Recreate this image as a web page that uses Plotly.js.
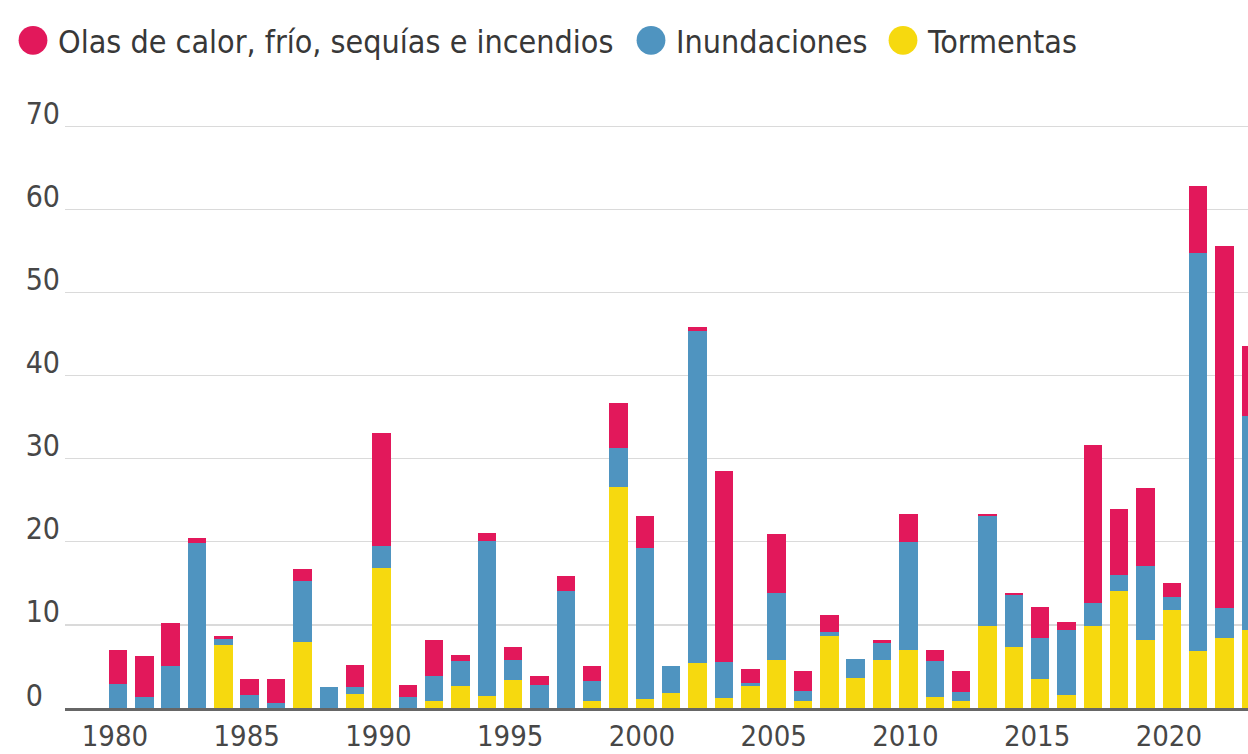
<!DOCTYPE html>
<html>
<head>
<meta charset="utf-8">
<script src="https://cdn.plot.ly/plotly-3.0.1.min.js"></script>
<style>
  html, body { margin: 0; padding: 0; background: #ffffff; }
  #chart { width: 1248px; height: 754px; }
</style>
</head>
<body>
<div id="chart"></div>
<script>
// ---- Data ----
const years = [1980,1981,1982,1983,1984,1985,1986,1987,1988,1989,
               1990,1991,1992,1993,1994,1995,1996,1997,1998,1999,
               2000,2001,2002,2003,2004,2005,2006,2007,2008,2009,
               2010,2011,2012,2013,2014,2015,2016,2017,2018,2019,
               2020,2021,2022,2023];

const tormentas = [0,0,0,0,7.6,0,0,7.9,0,1.7,
                   16.9,0,0.8,2.6,1.4,3.4,0,0,0.8,26.6,
                   1.1,1.8,5.4,1.2,2.6,5.8,0.8,8.7,3.6,5.8,
                   7.0,1.3,0.8,9.9,7.4,3.5,1.6,9.9,14.1,8.2,
                   11.8,6.9,8.4,9.4];

const inundaciones = [2.9,1.3,5.0,19.9,0.7,1.6,0.6,7.4,2.5,0.8,
                      2.6,1.3,3.0,3.0,18.7,2.4,2.8,14.1,2.4,4.7,
                      18.2,3.3,40.0,4.3,0.4,8.1,1.2,0.5,2.3,2.0,
                      13.0,4.4,1.1,13.2,6.2,4.9,7.8,2.7,1.9,8.9,
                      1.6,47.8,3.6,25.8];

const olas = [4.1,5.0,5.2,0.6,0.4,1.9,2.9,1.4,0,2.7,
              13.6,1.5,4.4,0.8,1.0,1.5,1.1,1.8,1.9,5.4,
              3.8,0,0.4,23.0,1.7,7.1,2.4,2.0,0,0.4,
              3.3,1.3,2.5,0.3,0.3,3.8,0.9,19.1,8.0,9.4,
              1.7,8.1,43.6,8.4];

const seriesNames = ["Olas de calor, frío, sequías e incendios", "Inundaciones", "Tormentas"];
const xTickVals = [1980,1985,1990,1995,2000,2005,2010,2015,2020];
const xTickText = ["1980","1985","1990","1995","2000","2005","2010","2015","2020"];
const yTickVals = [0,10,20,30,40,50,60,70];
const yTickText = ["0\u2007","10","20","30","40","50","60","70"];

// ---- Styles ----
const C_RED = "#e2185b", C_BLUE = "#4f94c0", C_YEL = "#f6d90f";
const FONT = "'DejaVu Sans Condensed', 'Liberation Sans Narrow', 'Open Sans', sans-serif";

function barTrace(y, name, color) {
  return { type: "bar", x: years, y: y, name: name, showlegend: false,
           marker: { color: color, line: { width: 0 } }, hoverinfo: "x+y+name" };
}
function legendTrace(name, color, legendId) {
  return { type: "scatter", mode: "markers", x: [null], y: [null], name: name, legend: legendId,
           marker: { color: color, size: 16, symbol: "circle" }, hoverinfo: "skip" };
}
function legendBox(xpx) {
  return {
    orientation: "h", xref: "container", yref: "container",
    x: xpx / 1248, y: 1 - 13 / 754, xanchor: "left", yanchor: "top",
    font: { family: FONT, size: 32, color: "#383838" },
    itemwidth: 40, bgcolor: "rgba(0,0,0,0)", borderwidth: 0
  };
}

const data = [
  barTrace(tormentas, seriesNames[2], C_YEL),
  barTrace(inundaciones, seriesNames[1], C_BLUE),
  barTrace(olas, seriesNames[0], C_RED),
  legendTrace(seriesNames[0], C_RED, "legend"),
  legendTrace(seriesNames[1], C_BLUE, "legend2"),
  legendTrace(seriesNames[2], C_YEL, "legend3")
];

const layout = {
  width: 1248, height: 754,
  margin: { l: 65, r: 0, t: 123.2, b: 46 },
  paper_bgcolor: "#ffffff", plot_bgcolor: "#ffffff",
  barmode: "stack", bargap: 0.3,
  font: { family: FONT, color: "#4a4a4a", size: 30 },
  showlegend: true,
  legend: legendBox(8),
  legend2: legendBox(626),
  legend3: legendBox(878),
  xaxis: {
    range: [1977.99, 2022.89], tickmode: "array", tickvals: xTickVals, ticktext: xTickText,
    showgrid: false, zeroline: false, showline: true, linecolor: "#666666", linewidth: 2.5,
    ticks: "", tickfont: { family: FONT, size: 29, color: "#474747" },
    ticklabelstandoff: 1, ticklabelshift: -3, fixedrange: true
  },
  yaxis: {
    range: [0, 70.4], tickmode: "array", tickvals: yTickVals, ticktext: yTickText,
    showgrid: true, gridcolor: "#dadada", gridwidth: 1.2, zeroline: false, showline: false,
    ticks: "", tickfont: { family: FONT, size: 30, color: "#474747" },
    ticklabelshift: -13, ticklabelstandoff: 4, fixedrange: true
  }
};

Plotly.newPlot("chart", data, layout, { displayModeBar: false, staticPlot: true }).then(function () {
  document.querySelectorAll(".legendpoints path.scatterpts").forEach(function (p) {
    const t = p.getAttribute("transform") || "";
    p.setAttribute("transform", t + " scale(1.8)");
  });
});
</script>
</body>
</html>
